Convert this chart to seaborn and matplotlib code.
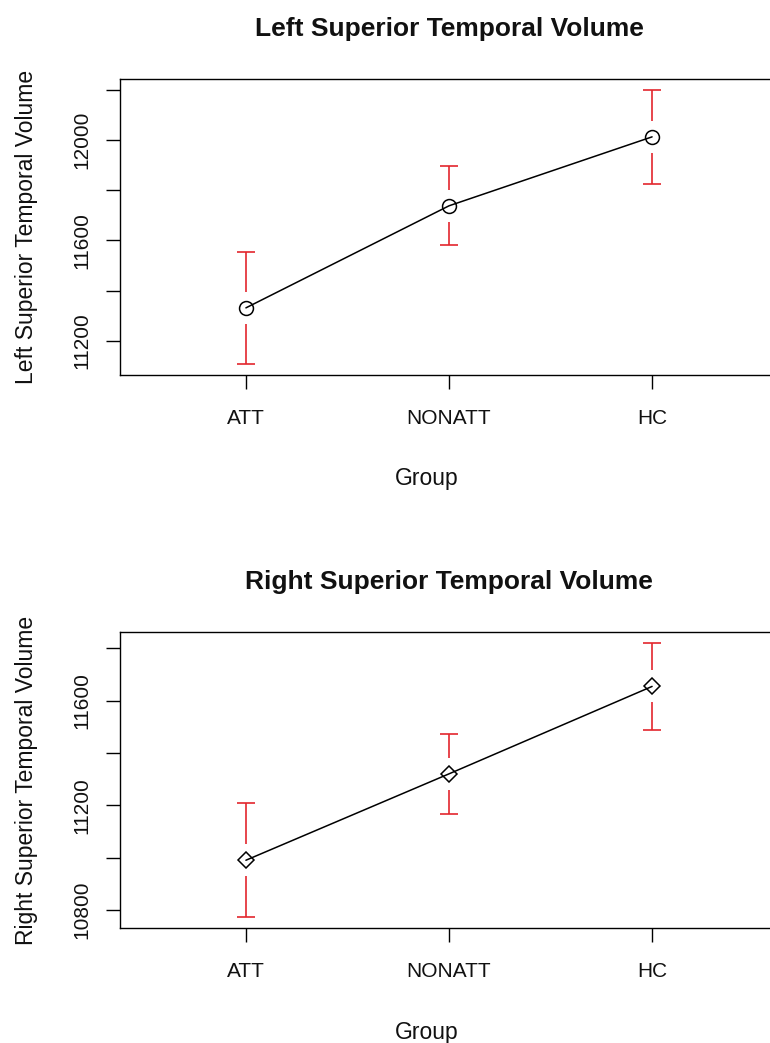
import numpy as np
import pandas as pd
import matplotlib
matplotlib.use("Agg")
import matplotlib.pyplot as plt
import seaborn as sns

# ---- data ----
groups = ["ATT", "NONATT", "HC"]
left_means = [11331, 11738, 12013]
left_ci = [224, 157, 187]
right_means = [10990, 11320, 11654]
right_ci = [217, 152, 166]
left_yticks = [11200, 11400, 11600, 11800, 12000, 12200]
left_ylabels = ["11200", "", "11600", "", "12000", ""]
right_yticks = [10800, 11000, 11200, 11400, 11600, 11800]
right_ylabels = ["10800", "", "11200", "", "11600", ""]
titles = ["Left Superior Temporal Volume", "Right Superior Temporal Volume"]
ylabels = ["Left Superior Temporal Volume", "Right Superior Temporal Volume"]
xlabel = "Group"

sns.set_theme(style="white")
plt.rcParams['font.family'] = ['Liberation Sans', 'DejaVu Sans']

W, H = 770, 1043
fig = plt.figure(figsize=(W / 100, H / 100), dpi=100)

RED = "#e3262d"


def panel(rect_px, means, ci, yticks, ylabs, title, ylab, marker):
    left, top, right, bottom = rect_px
    ax = fig.add_axes([left / W, 1 - bottom / H, (right - left) / W, (bottom - top) / H])
    pos = np.arange(len(groups))
    df = pd.DataFrame({"pos": pos, "mean": means, "Group": groups})
    lo = np.array(means) - np.array(ci)
    hi = np.array(means) + np.array(ci)
    span = hi.max() - lo.min()
    ax.set_ylim(lo.min() - 0.04 * span, hi.max() + 0.04 * span)
    ax.set_xlim(-0.62, len(groups) - 1 + 0.62)
    yr = ax.get_ylim()[1] - ax.get_ylim()[0]
    gap = 0.054 * yr
    m = np.array(means)
    ax.vlines(pos, m + gap, hi, color=RED, lw=1.2, zorder=2)
    ax.vlines(pos, lo, m - gap, color=RED, lw=1.2, zorder=2)
    ax.hlines(hi, pos - 0.043, pos + 0.043, color=RED, lw=1.2, zorder=2)
    ax.hlines(lo, pos - 0.043, pos + 0.043, color=RED, lw=1.2, zorder=2)
    sns.lineplot(data=df, x="pos", y="mean", ax=ax, color="black", lw=1.1,
                 marker=marker, markersize=10 if marker == "o" else 8.5,
                 markerfacecolor="none", markeredgecolor="black",
                 markeredgewidth=1.1, zorder=3)
    ax.set_xticks(pos)
    ax.set_xticklabels(groups)
    ax.set_yticks(yticks)
    ax.set_yticklabels(ylabs, rotation=90, va="center")
    ax.tick_params(axis="both", direction="out", length=10, width=1, color="black",
                   labelsize=15, labelcolor="#111111", left=True, bottom=True)
    ax.tick_params(axis="x", pad=14.5)
    ax.tick_params(axis="y", pad=10.5)
    for s in ax.spines.values():
        s.set_visible(True)
        s.set_color("black")
        s.set_linewidth(1.0)
    ax.set_title(title, fontsize=19, fontweight="bold", pad=31, color="#111111")
    ax.set_xlabel(xlabel, fontsize=16.5, color="#111111")
    ax.set_ylabel(ylab, fontsize=16.5, color="#111111")
    h = bottom - top
    wdt = right - left
    ax.xaxis.set_label_coords(0.5 - 22 / wdt, -104 / h)
    ax.xaxis.label.set_verticalalignment("center")
    ax.yaxis.set_label_coords((27 - left) / wdt, 0.5)
    ax.yaxis.label.set_verticalalignment("center")
    return ax


panel((120, 79, 778, 375), left_means, left_ci, left_yticks, left_ylabels,
      titles[0], ylabels[0], "o")
panel((120, 632, 778, 928), right_means, right_ci, right_yticks, right_ylabels,
      titles[1], ylabels[1], "D")

fig.savefig("out.png", dpi=100, facecolor="white")
